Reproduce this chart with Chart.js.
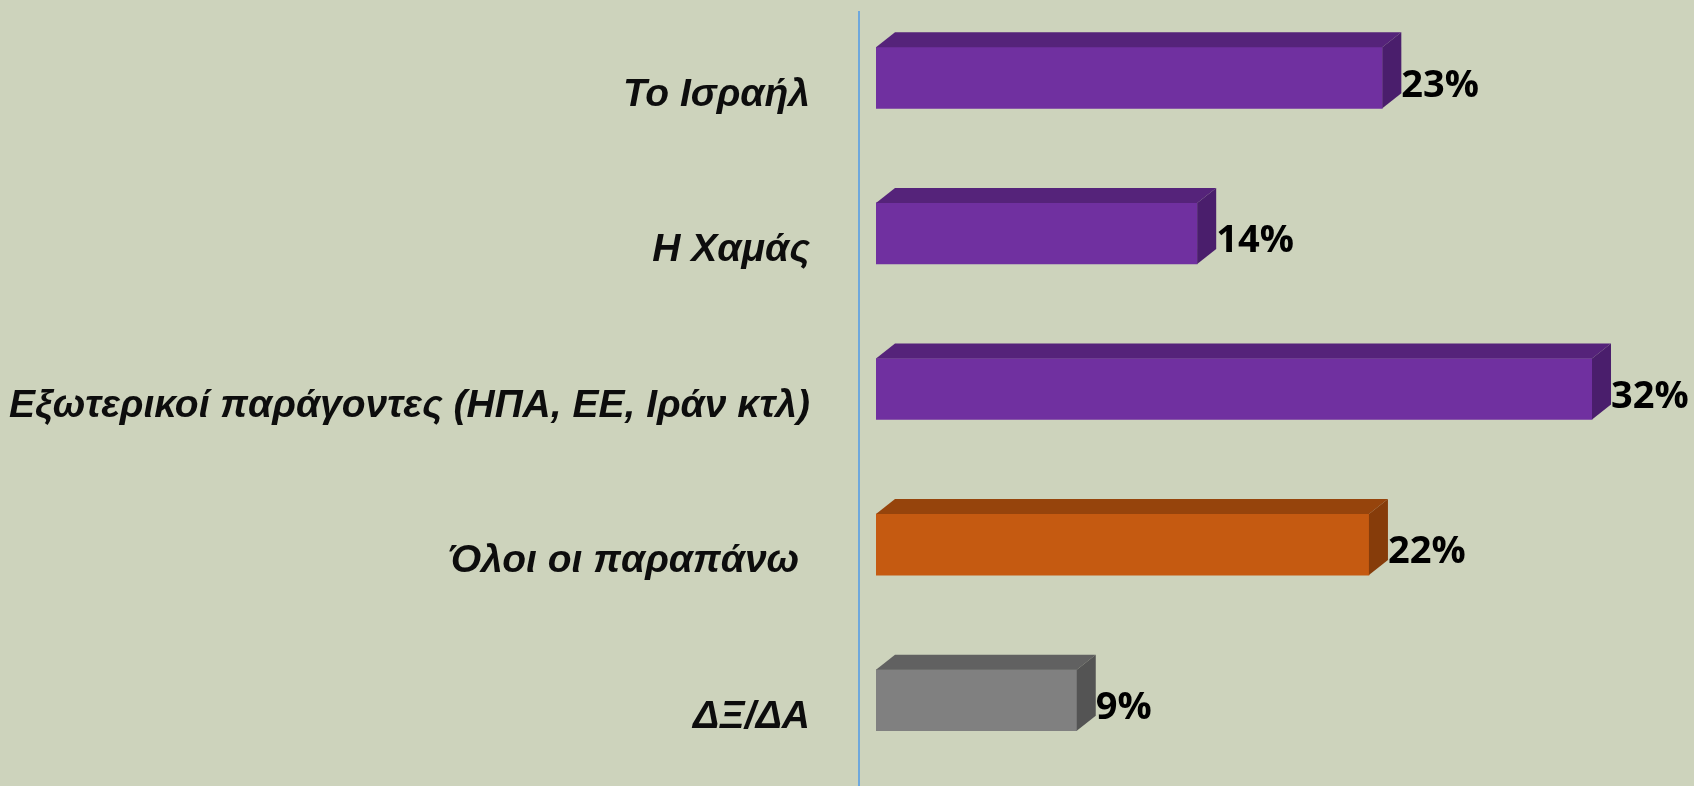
<!DOCTYPE html>
<html>
<head>
<meta charset="utf-8">
<script src="https://cdn.jsdelivr.net/npm/chart.js@4/dist/chart.umd.min.js"></script>
<style>
  body { margin: 0; background: #cdd3bc; }
  #wrap { width: 1694px; height: 786px; }
</style>
</head>
<body>
<div id="wrap"><canvas id="myChart"></canvas></div>
<script>
const categories = ["Το Ισραήλ", "Η Χαμάς", "Εξωτερικοί παράγοντες (ΗΠΑ, ΕΕ, Ιράν κτλ)", "Όλοι οι παραπάνω ", "ΔΞ/ΔΑ"]
// bar lengths, labels show them rounded
const values = [22.7, 14.4, 32.1, 22.1, 9.0]
const frontColors = ["#7030a0", "#7030a0", "#7030a0", "#c55a11", "#808080"]
const topColors = ["#55237a", "#55237a", "#55237a", "#96440c", "#616161"]
const sideColors = ["#4a1e6c", "#4a1e6c", "#4a1e6c", "#863c0a", "#545454"]

// fake 3d faces + value labels
const box3d = {
    id: "box3d",
    afterDatasetsDraw(chart) {
        const ctx = chart.ctx
        const bars = chart.getDatasetMeta(0).data
        const dx = 19, dy = 15
        ctx.save()
        for (let index = 0; index < bars.length; index++) {
            const bar = bars[index]
            const top = bar.y - bar.height / 2
            const bottom = bar.y + bar.height / 2
            ctx.fillStyle = topColors[index]
            ctx.beginPath()
            ctx.moveTo(bar.base, top)
            ctx.lineTo(bar.base + dx, top - dy)
            ctx.lineTo(bar.x + dx, top - dy)
            ctx.lineTo(bar.x, top)
            ctx.closePath()
            ctx.fill()
            ctx.fillStyle = sideColors[index]
            ctx.beginPath()
            ctx.moveTo(bar.x, top)
            ctx.lineTo(bar.x + dx, top - dy)
            ctx.lineTo(bar.x + dx, bottom - dy)
            ctx.lineTo(bar.x, bottom)
            ctx.closePath()
            ctx.fill()
            ctx.fillStyle = "#000"
            ctx.font = "bold 38px 'Open Sans', 'Liberation Sans', sans-serif"
            ctx.textBaseline = "middle"
            ctx.textAlign = "left"
            ctx.fillText(`${Math.round(values[index])}%`, bar.x + dx, bar.y + 8)
        }
        const left = chart.chartArea.left - 17
        ctx.strokeStyle = "#6fa8dc"
        ctx.lineWidth = 2
        ctx.beginPath()
        ctx.moveTo(left, 11)
        ctx.lineTo(left, 786)
        ctx.stroke()
        ctx.restore()
    }
}

const ctx = document.getElementById("myChart")
const chart = new Chart(ctx, {
    type: "bar",
    data: {
        labels: categories,
        datasets: [{
            data: values,
            backgroundColor: frontColors,
            barThickness: 61,
            borderWidth: 0
        }]
    },
    options: {
        indexAxis: "y",
        responsive: true,
        maintainAspectRatio: false,
        animation: false,
        layout: { padding: { top: 0, right: 15, bottom: 8, left: 0 } },
        plugins: { legend: { display: false }, tooltip: { enabled: false } },
        scales: {
            x: { display: false, min: 0, max: 36 },
            y: {
                grid: { display: false },
                border: { display: false },
                afterFit: (scale) => {
                    scale.width = 876
                    scale.paddingTop = 0
                    scale.paddingBottom = 0
                },
                ticks: {
                    padding: 58,
                    labelOffset: 17,
                    color: "#0d0d0d",
                    font: { family: "'Liberation Sans', sans-serif", size: 39, style: "italic", weight: "bold" }
                }
            }
        }
    },
    plugins: [box3d]
})
</script>
</body>
</html>
